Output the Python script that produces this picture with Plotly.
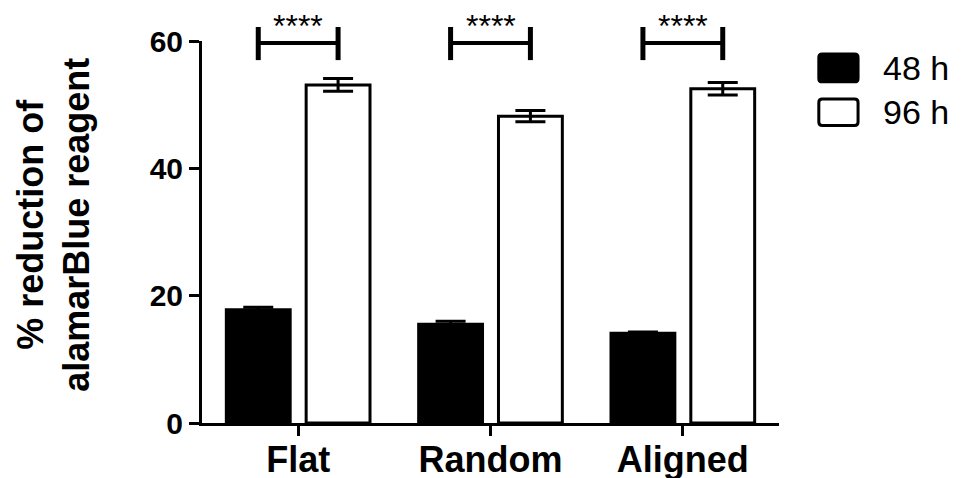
import plotly.graph_objects as go

categories = ["Flat", "Random", "Aligned"]
series_names = ["48 h", "96 h"]
values_48h = [17.8, 15.5, 14.1]
errors_48h = [0.4, 0.5, 0.2]
values_96h = [53.1, 48.2, 52.5]
errors_96h = [1.0, 0.9, 1.0]
y_tick_vals = [0, 20, 40, 60]
sig_labels = ["****", "****", "****"]
bracket_y = 59.7
bracket_lo = 57.0
bracket_hi = 62.2
star_top = 65.5

FONT = "Arial, Liberation Sans, sans-serif"
BARGAP = 0.17
GROUPGAP = 0.2
YMAX = 60

fig = go.Figure()
fig.add_trace(go.Bar(
    x=categories, y=values_48h, name=series_names[0],
    marker=dict(color="black", line=dict(color="black", width=3)),
    error_y=dict(type="data", array=errors_48h, color="black", thickness=3, width=15),
    showlegend=False,
))
fig.add_trace(go.Bar(
    x=categories, y=values_96h, name=series_names[1],
    marker=dict(color="white", line=dict(color="black", width=3)),
    error_y=dict(type="data", array=errors_96h, color="black", thickness=3, width=15),
    showlegend=False,
))

off = (1 - BARGAP) / 4
shapes = []
annotations = []
for i, lab in enumerate(sig_labels):
    xa, xb = i - off, i + off
    shapes.append(dict(type="line", xref="x", yref="paper", x0=xa, x1=xb,
                       y0=bracket_y / YMAX, y1=bracket_y / YMAX, line=dict(color="black", width=4)))
    for xx in (xa, xb):
        shapes.append(dict(type="line", xref="x", yref="paper", x0=xx, x1=xx,
                           y0=bracket_lo / YMAX, y1=bracket_hi / YMAX, line=dict(color="black", width=5)))
    annotations.append(dict(x=i, y=star_top / YMAX, xref="x", yref="paper", text=lab,
                            showarrow=False, yanchor="top", xanchor="center",
                            font=dict(family=FONT, size=32, color="black")))

# manual legend
def rounded_rect(x0, y0, x1, y1, rx, ry):
    return (f"M{x0+rx},{y0} L{x1-rx},{y0} Q{x1},{y0} {x1},{y0+ry} "
            f"L{x1},{y1-ry} Q{x1},{y1} {x1-rx},{y1} L{x0+rx},{y1} "
            f"Q{x0},{y1} {x0},{y1-ry} L{x0},{y0+ry} Q{x0},{y0} {x0+rx},{y0} Z")

leg_items = [(series_names[0], "black", 0.893, 0.966, 0.929),
             (series_names[1], "white", 0.779, 0.848, 0.814)]
for name, fill, y0, y1, yc in leg_items:
    shapes.append(dict(type="path", xref="paper", yref="paper",
                       path=rounded_rect(1.069, y0, 1.137, y1, 0.006, 0.009),
                       fillcolor=fill, line=dict(color="black", width=3)))
    annotations.append(dict(x=1.176, y=yc, xref="paper", yref="paper", text=name,
                            showarrow=False, xanchor="left", yanchor="middle",
                            font=dict(family=FONT, size=34, color="black")))

annotations.append(dict(x=-0.257, y=0.518, xref="paper", yref="paper",
                        text="% reduction of<br>alamarBlue reagent", textangle=-90,
                        showarrow=False, xanchor="center", yanchor="middle",
                        font=dict(family=FONT, size=36, color="black", weight="bold")))

fig.update_layout(
    width=965, height=478,
    margin=dict(l=202, r=186, t=41, b=55, autoexpand=False),
    paper_bgcolor="white", plot_bgcolor="white",
    barmode="group", bargap=BARGAP, bargroupgap=GROUPGAP,
    shapes=shapes, annotations=annotations,
    font=dict(family=FONT, color="black"),
)
fig.update_xaxes(
    automargin=False, ticklabelstandoff=-7,
    showline=True, linecolor="black", linewidth=3, ticks="outside", ticklen=10,
    tickwidth=3, tickcolor="black", showgrid=False, zeroline=False,
    tickfont=dict(family=FONT, size=36, color="black", weight="bold"),
)
fig.update_yaxes(
    automargin=False,
    range=[0, YMAX], tickvals=y_tick_vals, showline=True, linecolor="black", linewidth=3,
    ticks="outside", ticklen=10, tickwidth=3, tickcolor="black", showgrid=False,
    zeroline=False, tickfont=dict(family=FONT, size=30, color="black", weight="bold"),
)

fig.write_html(
    "out.html",
    config={"displayModeBar": False},
    post_script="document.body.style.margin='0';document.body.style.overflow='hidden';",
)
